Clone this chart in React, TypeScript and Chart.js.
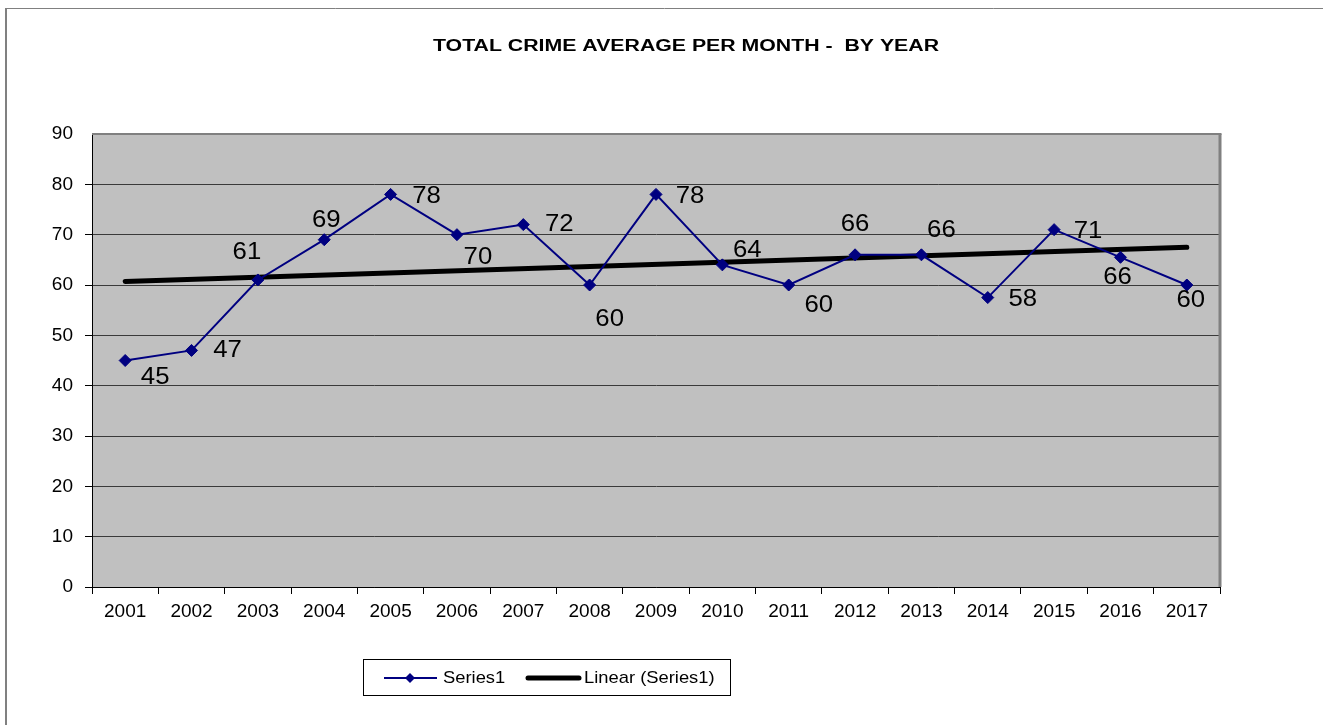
import React, { useEffect, useRef } from "react";
import { Chart, registerables } from "chart.js";

Chart.register(...registerables);

const categories = ["2001", "2002", "2003", "2004", "2005", "2006", "2007", "2008", "2009", "2010", "2011", "2012", "2013", "2014", "2015", "2016", "2017"];
const series1 = [45, 47, 61, 69, 78, 70, 72, 60, 78, 64, 60, 66, 66, 57.5, 71, 65.5, 60];
const dataLabels = ["45", "47", "61", "69", "78", "70", "72", "60", "78", "64", "60", "66", "66", "58", "71", "66", "60"];
const trendEnds = [60.7, 67.5];
const yMin = 0;
const yMax = 90;
const yStep = 10;
const titleText = "TOTAL CRIME AVERAGE PER MONTH -  BY YEAR";
const legendLabels = ["Series1", "Linear (Series1)"];

// label placement offsets (dx, dy) relative to each point
const labelOffsets: [number, number][] = [
  [30, 17], [36, 0], [-11, -27], [2, -19], [36, 2], [21, 23], [36, 0], [20, 35], [34, 2],
  [25, -14], [30, 21], [0, -30], [20, -24], [35, 2], [34, 2], [-3, 20], [4, 16],
];

const FONT = "'Liberation Sans', Arial, sans-serif";
const NAVY = "#000080";

function stretchedText(ctx: CanvasRenderingContext2D, text: string, x: number, y: number, sx: number) {
  ctx.save();
  ctx.translate(x, y);
  ctx.scale(sx, 1);
  ctx.fillText(text, 0, 0);
  ctx.restore();
}

export default function App() {
  const ref = useRef<HTMLCanvasElement | null>(null);

  useEffect(() => {
    document.body.style.margin = "0";
    const canvas = ref.current!;
    const last = categories.length - 1;
    const trendData = categories.map((_, i) => (i === 0 ? trendEnds[0] : i === last ? trendEnds[1] : null));

    const decor = {
      id: "decor",
      beforeDraw(chart: any) {
        const { ctx, chartArea } = chart;
        ctx.save();
        ctx.fillStyle = "#ffffff";
        ctx.fillRect(0, 0, chart.width, chart.height);
        // outer frame
        ctx.strokeStyle = "#808080";
        ctx.lineWidth = 1;
        ctx.beginPath();
        ctx.moveTo(6, 8.5);
        ctx.lineTo(chart.width, 8.5);
        ctx.stroke();
        ctx.lineWidth = 2;
        ctx.beginPath();
        ctx.moveTo(6, 8);
        ctx.lineTo(6, chart.height);
        ctx.stroke();
        // plot area
        ctx.fillStyle = "#C0C0C0";
        ctx.fillRect(chartArea.left, chartArea.top, chartArea.right - chartArea.left, chartArea.bottom - chartArea.top);
        ctx.restore();
      },
      afterDraw(chart: any) {
        const { ctx, chartArea } = chart;
        ctx.save();
        // plot border top/right
        ctx.strokeStyle = "#808080";
        ctx.lineWidth = 3;
        ctx.beginPath();
        ctx.moveTo(chartArea.right, chartArea.top);
        ctx.lineTo(chartArea.right, chartArea.bottom);
        ctx.stroke();
        ctx.lineWidth = 2;
        ctx.beginPath();
        ctx.moveTo(chartArea.left, chartArea.top);
        ctx.lineTo(chartArea.right + 1.5, chartArea.top);
        ctx.stroke();
        // title
        ctx.fillStyle = "#000";
        ctx.font = `bold 16px ${FONT}`;
        ctx.textAlign = "center";
        ctx.textBaseline = "middle";
        stretchedText(ctx, titleText, 686, 47, 1.33);
        // legend
        ctx.strokeStyle = "#000";
        ctx.lineWidth = 1;
        ctx.strokeRect(363.5, 659.5, 367, 36);
        const ly = 678;
        ctx.strokeStyle = NAVY;
        ctx.lineWidth = 2;
        ctx.beginPath();
        ctx.moveTo(384, ly);
        ctx.lineTo(437, ly);
        ctx.stroke();
        ctx.fillStyle = NAVY;
        ctx.beginPath();
        ctx.moveTo(410 - 5, ly);
        ctx.lineTo(410, ly - 5);
        ctx.lineTo(410 + 5, ly);
        ctx.lineTo(410, ly + 5);
        ctx.closePath();
        ctx.fill();
        ctx.strokeStyle = "#000";
        ctx.lineWidth = 5;
        ctx.lineCap = "round";
        ctx.beginPath();
        ctx.moveTo(528, ly);
        ctx.lineTo(579, ly);
        ctx.stroke();
        ctx.fillStyle = "#000";
        ctx.font = `17px ${FONT}`;
        ctx.textAlign = "left";
        ctx.textBaseline = "middle";
        stretchedText(ctx, legendLabels[0], 443, ly, 1.08);
        stretchedText(ctx, legendLabels[1], 584, ly, 1.08);
        ctx.restore();
      },
      afterDatasetsDraw(chart: any) {
        const { ctx } = chart;
        const meta = chart.getDatasetMeta(0);
        ctx.save();
        ctx.fillStyle = "#000";
        ctx.font = `23px ${FONT}`;
        ctx.textAlign = "center";
        ctx.textBaseline = "middle";
        meta.data.forEach((pt: any, i: number) => {
          const [dx, dy] = labelOffsets[i];
          stretchedText(ctx, dataLabels[i], pt.x + dx, pt.y + dy, 1.12);
        });
        ctx.restore();
      },
    };

    const chart = new Chart(canvas, {
      type: "line",
      data: {
        labels: categories,
        datasets: [
          {
            label: legendLabels[0],
            data: series1,
            borderColor: NAVY,
            backgroundColor: NAVY,
            borderWidth: 2,
            pointStyle: "rectRot",
            pointRadius: 6,
            pointBorderWidth: 1,
            pointBorderColor: NAVY,
            pointBackgroundColor: NAVY,
            tension: 0,
          },
          {
            label: legendLabels[1],
            data: trendData,
            borderColor: "#000",
            borderWidth: 5,
            borderCapStyle: "round",
            pointRadius: 0,
            spanGaps: true,
            tension: 0,
          },
        ],
      },
      options: {
        responsive: false,
        animation: false,
        devicePixelRatio: 1,
        layout: { padding: { left: 0, top: 134, right: 103, bottom: 0 } },
        plugins: {
          legend: { display: false },
          title: { display: false },
          tooltip: { enabled: false },
        },
        scales: {
          x: {
            offset: true,
            afterFit(scale: any) {
              scale.height = 138;
            },
            grid: {
              offset: true,
              drawOnChartArea: false,
              drawTicks: true,
              tickLength: 7,
              tickColor: "#000",
              color: "#000",
            },
            border: { display: true, color: "#000", width: 1 },
            ticks: {
              color: "#000",
              font: { family: FONT, size: 19 },
              padding: 6,
              maxRotation: 0,
              autoSkip: false,
            },
          },
          y: {
            min: yMin,
            max: yMax,
            afterFit(scale: any) {
              scale.width = 92;
            },
            grid: {
              color: (c: any) => (c.tick && c.tick.value === yMax ? "#808080" : "#3a3a3a"),
              lineWidth: (c: any) => (c.tick && c.tick.value === yMax ? 0 : 1),
              drawTicks: true,
              tickLength: 7,
              tickColor: "#000",
            },
            border: { display: true, color: "#000", width: 1 },
            ticks: {
              stepSize: yStep,
              color: "#000",
              font: { family: FONT, size: 19 },
              padding: 12,
            },
          },
        },
      },
      plugins: [decor],
    });

    return () => chart.destroy();
  }, []);

  return (
    <div style={{ width: 1323, height: 725 }}>
      <canvas ref={ref} width={1323} height={725} style={{ display: "block", width: 1323, height: 725 }} />
    </div>
  );
}
